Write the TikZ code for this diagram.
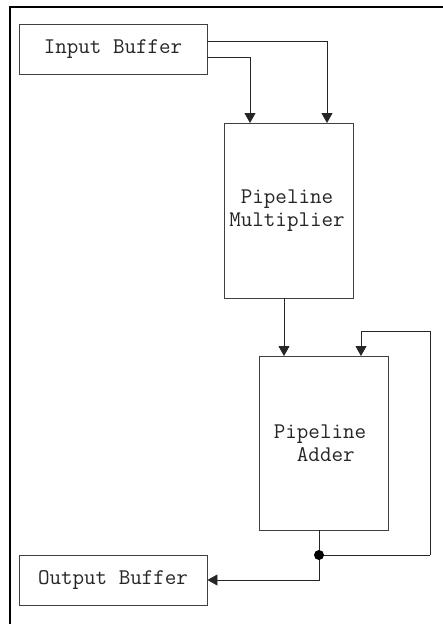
\documentclass[tikz,border=0pt]{standalone}
\usetikzlibrary{arrows.meta}
\begin{document}
\begin{tikzpicture}[x=1pt,y=-1pt,
  lbl/.style={font=\ttfamily\fontsize{22.4}{23}\selectfont,align=center,text=black!85},
  block/.style={lbl,draw=black!75,line width=0.9pt,fill=white,inner sep=0pt},
  wire/.style={draw=black!85,line width=0.9pt},
  arr/.style={wire,-{Triangle[length=10pt,width=11pt]}},
  frame/.style={line width=2pt,draw=black}]
\useasboundingbox (0,0) rectangle (443,624);
% open outer frame along the top and left edges
\draw[frame] (10,624) -- (10,6.5) -- (443,6.5);

% blocks
\node[block,minimum width=188pt,minimum height=50pt] (ib) at (113,49) {Input Buffer};
\node[block,minimum width=129pt,minimum height=175pt] (mul) at (288.5,210.5) {};
\node[lbl] at (287,211) {Pipeline\\Multiplier};
\node[block,minimum width=129pt,minimum height=174pt] (add) at (323.5,443) {};
\node[lbl] at (320,443) {Pipeline\\\ Adder};
\node[block,minimum width=188pt,minimum height=50pt] (ob) at (113,580) {Output Buffer};

% junction points
\coordinate (jn) at (319,555);
\coordinate (fb) at (430,555);

% input buffer feeds the multiplier twice
\draw[arr] (ib.east |- 0,41) -| (327,123);
\draw[arr] (ib.east |- 0,57) -| (250,123);
% multiplier into adder
\draw[arr] (284,298) -- (284,356);
% adder output: branch to output buffer and feedback
\draw[wire] (319,530) -- (jn);
\draw[arr] (jn) |- (ob.east);
\draw[wire] (jn) -- (fb);
\draw[arr] (fb) |- (361,331) -- (361,356);
\fill (jn) circle (5pt);
\end{tikzpicture}
\end{document}
